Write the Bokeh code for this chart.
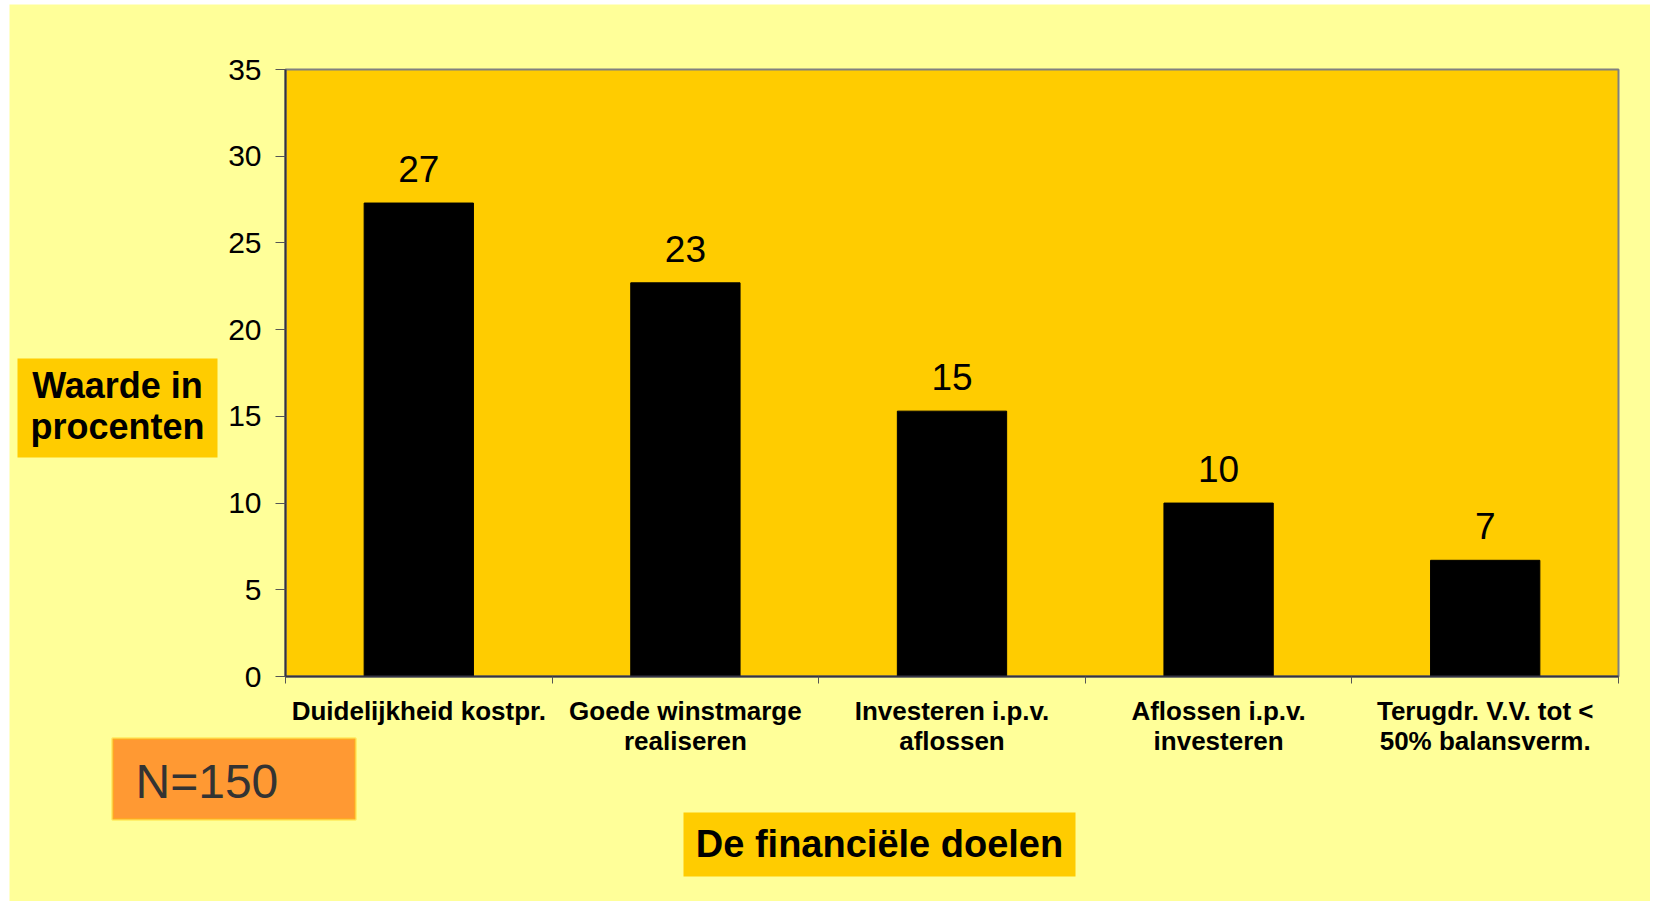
from bokeh.plotting import figure
from bokeh.models import Range1d, FixedTicker, Label, BoxAnnotation
from bokeh.core.properties import value
from bokeh.embed import file_html
from bokeh.resources import INLINE

# ---- data ----
categories = [
    "Duidelijkheid kostpr.",
    "Goede winstmarge\nrealiseren",
    "Investeren i.p.v.\naflossen",
    "Aflossen i.p.v.\ninvesteren",
    "Terugdr. V.V. tot <\n50% balansverm.",
]
percentages = [27.3, 22.7, 15.3, 10.0, 6.7]
value_labels = ["27", "23", "15", "10", "7"]
y_ticks = [0, 5, 10, 15, 20, 25, 30, 35]
y_title_lines = ["Waarde in", "procenten"]
x_title = "De financiële doelen"
n_text = "N=150"

FONT = "Liberation Sans"

# ---- layout geometry (pixels) ----
W, H = 1650, 901
FL, FR, FT, FB = 285, 1618, 69, 676      # chart area edges on the canvas

positions = list(range(len(categories)))
boundaries = [i - 0.5 for i in range(len(categories) + 1)]
x0, x1 = boundaries[0], boundaries[-1]
y0, y1 = y_ticks[0], y_ticks[-1]
xpx = (FR - FL) / (x1 - x0)
ypx = (FB - FT) / (y1 - y0)

p = figure(
    width=W, height=H,
    x_range=Range1d(x0 - FL / xpx, x1 + (W - FR) / xpx),
    y_range=Range1d(y0 - (H - FB) / ypx, y1 + FT / ypx),
    output_backend="svg", toolbar_location=None, min_border=0,
)
p.background_fill_color = "white"
p.border_fill_color = "white"
p.outline_line_color = None
p.xgrid.grid_line_color = None
p.ygrid.grid_line_color = None

C = dict(left_units="canvas", right_units="canvas", bottom_units="canvas", top_units="canvas")

# slide background
p.add_layout(BoxAnnotation(left=9, right=W, top=4, bottom=H, **C, level="underlay",
                           fill_color="#FFFF99", fill_alpha=1, line_color=None))

# chart area
p.quad(left=x0, right=x1, bottom=y0, top=y1, fill_color="#FFCC00",
       line_color="#808080", line_width=2)

p.vbar(x=positions, top=percentages, width=0.41, fill_color="black", line_color="black")
p.text(x=positions, y=percentages, text=value_labels, text_align="center",
       text_baseline="bottom", y_offset=-21, text_font=value(FONT),
       text_font_size="37px", text_color="black")

# y axis
p.yaxis.fixed_location = x0
p.yaxis.bounds = (y0, y1)
p.yaxis.ticker = FixedTicker(ticks=y_ticks)
p.yaxis.minor_tick_line_color = None
p.yaxis.major_tick_out = 10
p.yaxis.major_tick_in = 0
p.yaxis.major_tick_line_color = "#555555"
p.yaxis.axis_line_color = "#333344"
p.yaxis.axis_line_width = 2
p.yaxis.major_label_standoff = 14
p.yaxis.major_label_text_font = FONT
p.yaxis.major_label_text_font_size = "30px"
p.yaxis.major_label_text_color = "black"

# x axis: labels at bar centres, tick marks at category boundaries
p.xaxis.fixed_location = y0
p.xaxis.bounds = (x0, x1)
p.xaxis.ticker = FixedTicker(ticks=positions, minor_ticks=boundaries)
p.xaxis.major_label_overrides = {i: c for i, c in zip(positions, categories)}
p.xaxis.major_tick_out = 0
p.xaxis.major_tick_in = 0
p.xaxis.minor_tick_out = 7
p.xaxis.minor_tick_in = 0
p.xaxis.minor_tick_line_color = "#555555"
p.xaxis.axis_line_color = "#333344"
p.xaxis.axis_line_width = 2
p.xaxis.major_label_standoff = 12
p.xaxis.major_label_text_font = FONT
p.xaxis.major_label_text_font_style = "bold"
p.xaxis.major_label_text_font_size = "26px"
p.xaxis.major_label_text_color = "black"
p.xaxis.major_label_text_line_height = 1.0

# y title box
p.add_layout(BoxAnnotation(left=17, right=217, top=358, bottom=457, **C,
                           fill_color="#FFCC00", fill_alpha=1, line_color=None))
for txt, yb in zip(y_title_lines, [385, 426]):
    p.add_layout(Label(x=117, y=yb, x_units="canvas", y_units="canvas", text=txt,
                       text_align="center", text_baseline="alphabetic", text_font=FONT,
                       text_font_style="bold", text_font_size="36px", text_color="black"))

# N box
p.add_layout(BoxAnnotation(left=112, right=355, top=738, bottom=819, **C,
                           fill_color="#FF9933", fill_alpha=1,
                           line_color="#FFCC00", line_width=3))
p.add_layout(Label(x=135, y=781, x_units="canvas", y_units="canvas", text=n_text,
                   text_align="left", text_baseline="alphabetic", text_font=FONT,
                   text_font_size="48px", text_color="#333333"))

# x title box
p.add_layout(BoxAnnotation(left=683, right=1075, top=812, bottom=876, **C,
                           fill_color="#FFCC00", fill_alpha=1, line_color=None))
p.add_layout(Label(x=879, y=843, x_units="canvas", y_units="canvas", text=x_title,
                   text_align="center", text_baseline="alphabetic", text_font=FONT,
                   text_font_style="bold", text_font_size="38px", text_color="black"))

open("out.html", "w").write(file_html(p, INLINE))
